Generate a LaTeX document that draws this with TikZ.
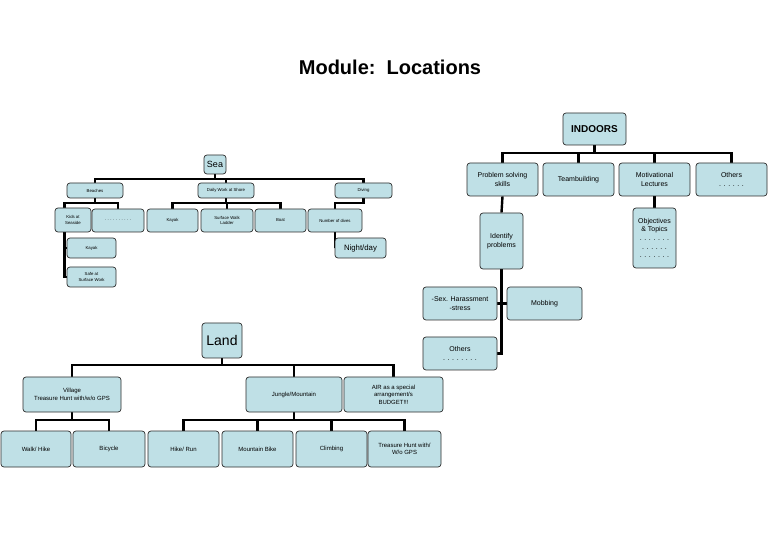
\documentclass[tikz,border=0pt]{standalone}
\usepackage{fontspec}
\setmainfont{Liberation Sans}
\usetikzlibrary{backgrounds}
\definecolor{boxfill}{RGB}{191,224,230}
\definecolor{boxline}{RGB}{45,45,45}
\tikzset{
  bx/.style={draw=boxline, line width=0.7pt, fill=boxfill, rounded corners=3pt, align=center, inner sep=0pt},
  conn/.style={line width=2.4pt, black},
  ftiny/.style={font=\fontsize{4.3}{5.2}\selectfont},
  fsmall/.style={font=\fontsize{6}{7.4}\selectfont},
  fmed/.style={font=\fontsize{7}{8.6}\selectfont},
  fnight/.style={font=\fontsize{7.8}{9}\selectfont},
  fsea/.style={font=\fontsize{9}{10}\selectfont},
  fland/.style={font=\fontsize{14}{16}\selectfont},
  findoor/.style={font=\fontsize{10}{12}\selectfont\bfseries},
}
\newcommand\bx[7]{\node[bx,#6,minimum width={#4pt-#2pt},minimum height={#5pt-#3pt}] (#1) at ({(#2+#4)/2},{(#3+#5)/2}) {#7};}
\begin{document}
\begin{tikzpicture}[x=1pt,y=-1pt]
\useasboundingbox (0,0) rectangle (780,540);
\node[font=\fontsize{20}{22}\selectfont\bfseries] (title) at (390,67) {Module:\ \ Locations};
% INDOORS
\bx{indoors}{563}{113}{626}{145}{findoor}{INDOORS}
\bx{prob}{467}{163}{538}{196}{fmed}{Problem solving\\skills}
\bx{team}{543}{163}{614}{196}{fmed}{Teambuilding}
\bx{motiv}{619}{163}{690}{196}{fmed}{Motivational\\Lectures}
\bx{othersA}{696}{163}{767}{196}{fmed}{Others\\. . . . . .}
\bx{ident}{480}{213}{523}{269}{fmed}{Identify\\problems}
\bx{obj}{633}{208}{676}{268}{fmed}{Objectives\\\& Topics\\. . . . . . .\\. . . . . .\\. . . . . . .}
\bx{sex}{423}{287}{497}{320}{fmed}{-Sex. Harassment\\-stress}
\bx{mob}{507}{287}{582}{320}{fmed}{Mobbing}
\bx{othersB}{423}{337}{497}{370}{fmed}{Others\\. . . . . . . .}
% Sea
\bx{sea}{204}{155}{226}{174}{fsea}{Sea}
\bx{beach}{67}{183}{123}{198}{ftiny}{Beaches}
\bx{daily}{198}{183}{254}{198}{ftiny}{Daily Work at Shore}
\bx{diving}{335}{183}{392}{198}{ftiny}{Diving}
\bx{kids}{55}{208}{91}{232}{ftiny}{Kids at\\Seaside}
\bx{dots}{92}{209}{144}{232}{ftiny}{. . . . . . . . . .}
\bx{kayak}{147}{209}{198}{232}{ftiny}{Kayak}
\bx{surf}{201}{209}{253}{232}{ftiny}{Surface Walk\\Ladder}
\bx{boat}{255}{209}{306}{232}{ftiny}{Boat}
\bx{dives}{308}{209}{362}{232}{ftiny}{Number of dives}
\bx{kayakB}{67}{238}{116}{258}{ftiny}{Kayak}
\bx{safe}{67}{267}{116}{287}{ftiny}{Safe at\\Surface Work}
\bx{night}{335}{238}{386}{258}{fnight}{Night/day}
% Land
\bx{land}{202}{323}{242}{358}{fland}{Land}
\bx{village}{23}{377}{121}{412}{fsmall}{Village\\Treasure Hunt with/w/o GPS}
\bx{jungle}{246}{377}{342}{412}{fsmall}{Jungle/Mountain}
\bx{air}{344}{377}{443}{412}{fsmall}{AIR as a special\\arrangement/s\\BUDGET!!!}
\bx{walk}{1}{431}{71}{467}{fsmall}{Walk/ Hike}
\bx{bike}{73}{431}{145}{467}{fsmall}{Bicycle}
\bx{hike}{148}{431}{219}{467}{fsmall}{Hike/ Run}
\bx{mtb}{222}{431}{293}{467}{fsmall}{Mountain Bike}
\bx{climb}{296}{431}{367}{467}{fsmall}{Climbing}
\bx{treasure}{368}{431}{441}{467}{fsmall}{Treasure Hunt with/\\W/o GPS}
\begin{scope}[on background layer]
\fill[white] (0,0) rectangle (780,540);
% indoors
\draw[conn] (indoors.south) -- (indoors.south |- 0,153);
\draw[conn] (prob.north) -- (prob.north |- 0,153) -| (othersA.north);
\draw[conn] (team.north) -- (team.north |- 0,153);
\draw[conn] (motiv.north) -- (motiv.north |- 0,153);
\draw[conn] (prob.south) -- (ident.north);
\draw[conn] (motiv.south) -- (obj.north);
\draw[conn] (ident.south) -- (ident.south |- othersB.east) -- (othersB.east);
\draw[conn] (sex.east) -- (mob.west);
% sea
\draw[conn] (sea.south) -- (sea.south |- 0,179);
\draw[conn] (beach.north) -- (beach.north |- 0,179) -| (diving.north);
\draw[conn] (daily.north) -- (daily.north |- 0,179);
\draw[conn] (beach.south) -- (beach.south |- 0,203);
\coordinate (kidsin) at ([xshift=10pt]kids.north west);
\coordinate (kidsout) at ([xshift=10pt]kids.south west);
\draw[conn] (kidsin) -- (kidsin |- 0,203) -| (dots.north);
\draw[conn] (daily.south) -- (daily.south |- 0,203);
\draw[conn] (kayak.north) -- (kayak.north |- 0,203) -| (boat.north);
\draw[conn] (surf.north) -- (surf.north |- 0,203);
\draw[conn] (diving.south) -- (diving.south |- 0,203) -| (dives.north);
\draw[conn] (kidsout) |- (kayakB.west);
\draw[conn] (kidsout) |- (safe.west);
\draw[conn] (dives.south) |- (night.west);
% land
\draw[conn] (land.south) -- (land.south |- 0,365);
\draw[conn] (village.north) -- (village.north |- 0,365) -| (air.north);
\draw[conn] (jungle.north) -- (jungle.north |- 0,365);
\draw[conn] (village.south) -- (village.south |- 0,420);
\draw[conn] (walk.north) -- (walk.north |- 0,420) -| (bike.north);
\draw[conn] (jungle.south) -- (jungle.south |- 0,420);
\draw[conn] (hike.north) -- (hike.north |- 0,420) -| (treasure.north);
\draw[conn] (mtb.north) -- (mtb.north |- 0,420);
\draw[conn] (climb.north) -- (climb.north |- 0,420);
\end{scope}
\end{tikzpicture}
\end{document}
